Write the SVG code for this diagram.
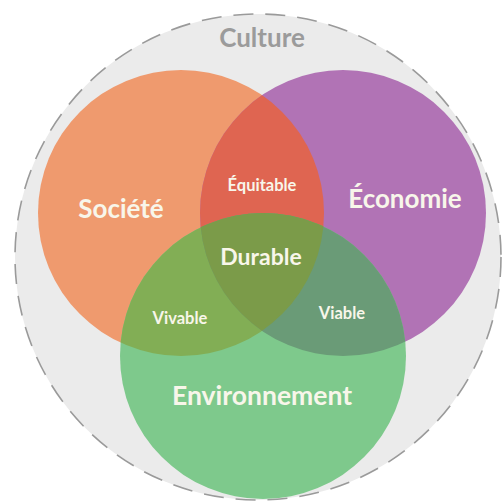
<svg xmlns="http://www.w3.org/2000/svg" width="502" height="504" viewBox="0 0 502 504">
<style>
.t{font-family:Lato,"Liberation Sans",sans-serif;font-weight:bold;text-anchor:middle;fill:#f8f6ea}
</style>
<defs>
<clipPath id="cS"><circle cx="181" cy="213" r="143"/></clipPath>
<clipPath id="cE"><circle cx="343" cy="213" r="143"/></clipPath>
<clipPath id="cV"><circle cx="263" cy="356" r="143"/></clipPath>
</defs>
<rect width="502" height="504" fill="#ffffff"/>
<g id="culture">
<circle cx="258" cy="257" r="243" fill="#ebebeb" stroke="#9a9a9a" stroke-width="1.6" stroke-dasharray="20 12"/>
<text class="t" x="262" y="47" font-size="26" style="fill:#9b9b9b">Culture</text>
</g>
<g id="societe">
<circle cx="181" cy="213" r="143" fill="#ef9a6e"/>
</g>
<g id="economie">
<circle cx="343" cy="213" r="143" fill="#b173b5"/>
</g>
<g id="environnement">
<circle cx="263" cy="356" r="143" fill="#7ec98c"/>
</g>
<g id="equitable" clip-path="url(#cS)">
<circle cx="343" cy="213" r="143" fill="#df6551"/>
</g>
<g id="vivable" clip-path="url(#cS)">
<circle cx="263" cy="356" r="143" fill="#82ae55"/>
</g>
<g id="viable" clip-path="url(#cE)">
<circle cx="263" cy="356" r="143" fill="#6a9b77"/>
</g>
<g id="durable" clip-path="url(#cS)">
<g clip-path="url(#cE)">
<circle cx="263" cy="356" r="143" fill="#7b9b49"/>
</g>
</g>
<g id="labels">
<text class="t" x="121" y="218" font-size="26">Société</text>
<text class="t" x="405" y="208" font-size="26">Économie</text>
<text class="t" x="262" y="191" font-size="16.5">Équitable</text>
<text class="t" x="261" y="265" font-size="23">Durable</text>
<text class="t" x="180" y="324" font-size="16.5">Vivable</text>
<text class="t" x="342" y="319" font-size="16.5">Viable</text>
<text class="t" x="262" y="405" font-size="26.5">Environnement</text>
</g>
</svg>
